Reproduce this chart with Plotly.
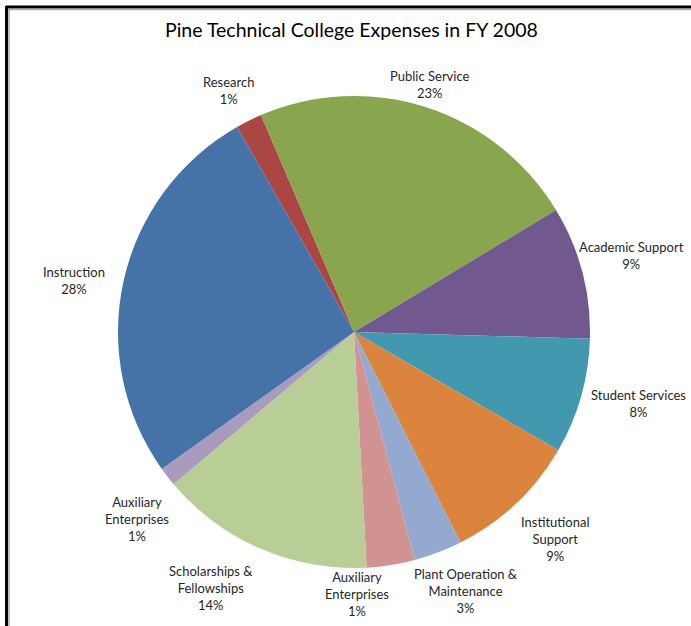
import plotly.graph_objects as go

W, H = 691, 626

# ---- data (clockwise from the Research slice) ----
categories = ["Research", "Public Service", "Academic Support", "Student Services",
              "Institutional Support", "Plant Operation & Maintenance",
              "Auxiliary Enterprises", "Scholarships & Fellowships",
              "Auxiliary Enterprises ", "Instruction"]
values = [1.8, 22.8, 9.1, 7.9, 9.2, 3.3, 3.3, 14.7, 1.3, 26.6]
pct_labels = ["1%", "23%", "9%", "8%", "9%", "3%", "1%", "14%", "1%", "28%"]
label_text = ["Research", "Public Service", "Academic Support", "Student Services",
              "Institutional<br>Support", "Plant Operation &<br>Maintenance",
              "Auxiliary<br>Enterprises", "Scholarships &<br>Fellowships",
              "Auxiliary<br>Enterprises", "Instruction"]
colors = ["#AA4643", "#89A54E", "#71588F", "#4198AF", "#DB843D",
          "#93A9CF", "#D19392", "#B9CD96", "#A99BBD", "#4572A7"]

# label anchor positions (pixels)
label_pos = [(228, 91), (430, 85), (631, 255), (638, 404), (555, 539),
             (466, 591), (357, 594), (211, 588), (137, 519), (74, 280)]

cx, cy, r = 354, 332, 236

fig = go.Figure(go.Pie(
    labels=categories, values=values, sort=False, direction="clockwise",
    rotation=-29.7, textinfo="none", hoverinfo="label+percent",
    marker=dict(colors=colors, line=dict(width=0)),
    domain=dict(x=[(cx - r) / W, (cx + r) / W],
                y=[(H - cy - r) / H, (H - cy + r) / H]),
    showlegend=False,
))

font_family = "Lato, 'Open Sans', sans-serif"
annotations = []
for txt, pct, (px, py) in zip(label_text, pct_labels, label_pos):
    annotations.append(dict(
        x=px / W, y=1 - py / H, xref="paper", yref="paper",
        text=f"{txt}<br>{pct}", showarrow=False, xanchor="center", yanchor="middle",
        font=dict(family=font_family, size=13, color="#262626"), align="center"))
annotations.append(dict(
    x=352 / W, y=1 - 30 / H, xref="paper", yref="paper",
    text="Pine Technical College Expenses in FY 2008", showarrow=False,
    xanchor="center", yanchor="middle",
    font=dict(family=font_family, size=19.5, color="#000000")))

shapes = [
    dict(type="line", xref="paper", yref="paper", x0=6 / W, x1=1, y0=1 - 7 / H, y1=1 - 7 / H,
         line=dict(color="black", width=3)),
    dict(type="line", xref="paper", yref="paper", x0=6 / W, x1=1, y0=1 - 9.5 / H, y1=1 - 9.5 / H,
         line=dict(color="#aaaaaa", width=1.5)),
    dict(type="line", xref="paper", yref="paper", x0=6.5 / W, x1=6.5 / W, y0=0, y1=1 - 6 / H,
         line=dict(color="black", width=3)),
    dict(type="line", xref="paper", yref="paper", x0=9 / W, x1=9 / W, y0=0, y1=1 - 9 / H,
         line=dict(color="#aaaaaa", width=1.5)),
]

fig.update_layout(
    width=W, height=H, margin=dict(l=0, r=0, t=0, b=0),
    paper_bgcolor="white", plot_bgcolor="white",
    annotations=annotations, shapes=shapes,
)

fig.write_html("out.html", config={"displayModeBar": False},
               post_script="document.body.style.margin='0px';document.body.style.padding='0px';")
